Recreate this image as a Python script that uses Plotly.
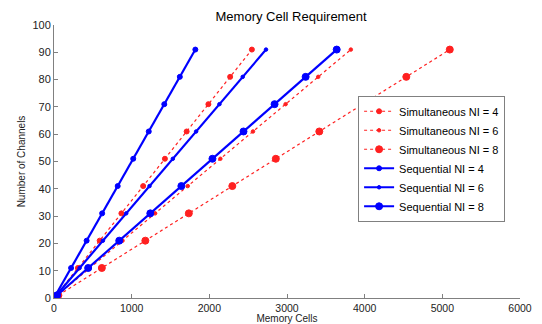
import plotly.graph_objects as go

channels = [1, 11, 21, 31, 41, 51, 61, 71, 81, 91]

sim_ni4 = [28, 308, 588, 868, 1148, 1428, 1708, 1988, 2268, 2548]
sim_ni6 = [42, 462, 882, 1302, 1722, 2142, 2562, 2982, 3402, 3822]
sim_ni8 = [56, 616, 1176, 1736, 2296, 2856, 3416, 3976, 4536, 5096]
seq_ni4 = [20, 220, 420, 620, 820, 1020, 1220, 1420, 1620, 1820]
seq_ni6 = [30, 330, 630, 930, 1230, 1530, 1830, 2130, 2430, 2730]
seq_ni8 = [40, 440, 840, 1240, 1640, 2040, 2440, 2840, 3240, 3640]

x_ticks = [0, 1000, 2000, 3000, 4000, 5000, 6000]
y_ticks = [0, 10, 20, 30, 40, 50, 60, 70, 80, 90, 100]

series = [
    ("Simultaneous NI = 4", sim_ni4, "#ff2020", "dot", 1.2, 5),
    ("Simultaneous NI = 6", sim_ni6, "#ff2020", "dot", 1.2, 3.5),
    ("Simultaneous NI = 8", sim_ni8, "#ff2020", "dot", 1.2, 7),
    ("Sequential NI = 4", seq_ni4, "#0000ff", "solid", 2.2, 5),
    ("Sequential NI = 6", seq_ni6, "#0000ff", "solid", 2.2, 3.5),
    ("Sequential NI = 8", seq_ni8, "#0000ff", "solid", 2.2, 7),
]

fig = go.Figure()
for name, xs, col, dash, w, ms in series:
    fig.add_trace(go.Scatter(
        x=xs, y=channels, name=name, mode="lines+markers",
        line=dict(color=col, dash=dash, width=w),
        marker=dict(symbol="circle", size=ms, color=col,
                    line=dict(color=col, width=1)),
    ))

font = "Liberation Sans, Arial, sans-serif"
fig.update_layout(
    width=534, height=316,
    margin=dict(l=46, r=22, t=17, b=26, autoexpand=False),
    paper_bgcolor="white", plot_bgcolor="white",
    font=dict(family=font, size=11, color="#222"),
    title=dict(text="Memory Cell Requirement", x=0.53, xanchor="center",
               y=0.988, yanchor="top", font=dict(size=13, color="black")),
    showlegend=True,
    legend=dict(x=0.968, xanchor="right", y=0.51, yanchor="middle",
                bordercolor="#808080", borderwidth=1, bgcolor="white",
                font=dict(size=11, color="black"), tracegroupgap=0,
                itemwidth=30),
)
fig.update_xaxes(
    range=[0, 6000], tickvals=x_ticks, ticktext=[str(v) for v in x_ticks],
    showgrid=False, zeroline=False, showline=True, linecolor="#808080",
    linewidth=1, ticks="inside", ticklen=4, tickcolor="#808080",
    tickfont=dict(size=10.5, color="#222"), automargin=False,
    title=dict(text="Memory Cells", font=dict(size=10, color="#222"), standoff=1),
)
fig.update_yaxes(
    range=[0, 100], tickvals=y_ticks, ticktext=[str(v) for v in y_ticks],
    showgrid=False, zeroline=False, showline=True, linecolor="#808080",
    linewidth=1, ticks="inside", ticklen=4, tickcolor="#808080",
    tickfont=dict(size=11, color="#222"), automargin=False,
    title=dict(text="Number of Channels", font=dict(size=10, color="#222"), standoff=4),
)

fig.write_html("out.html")
